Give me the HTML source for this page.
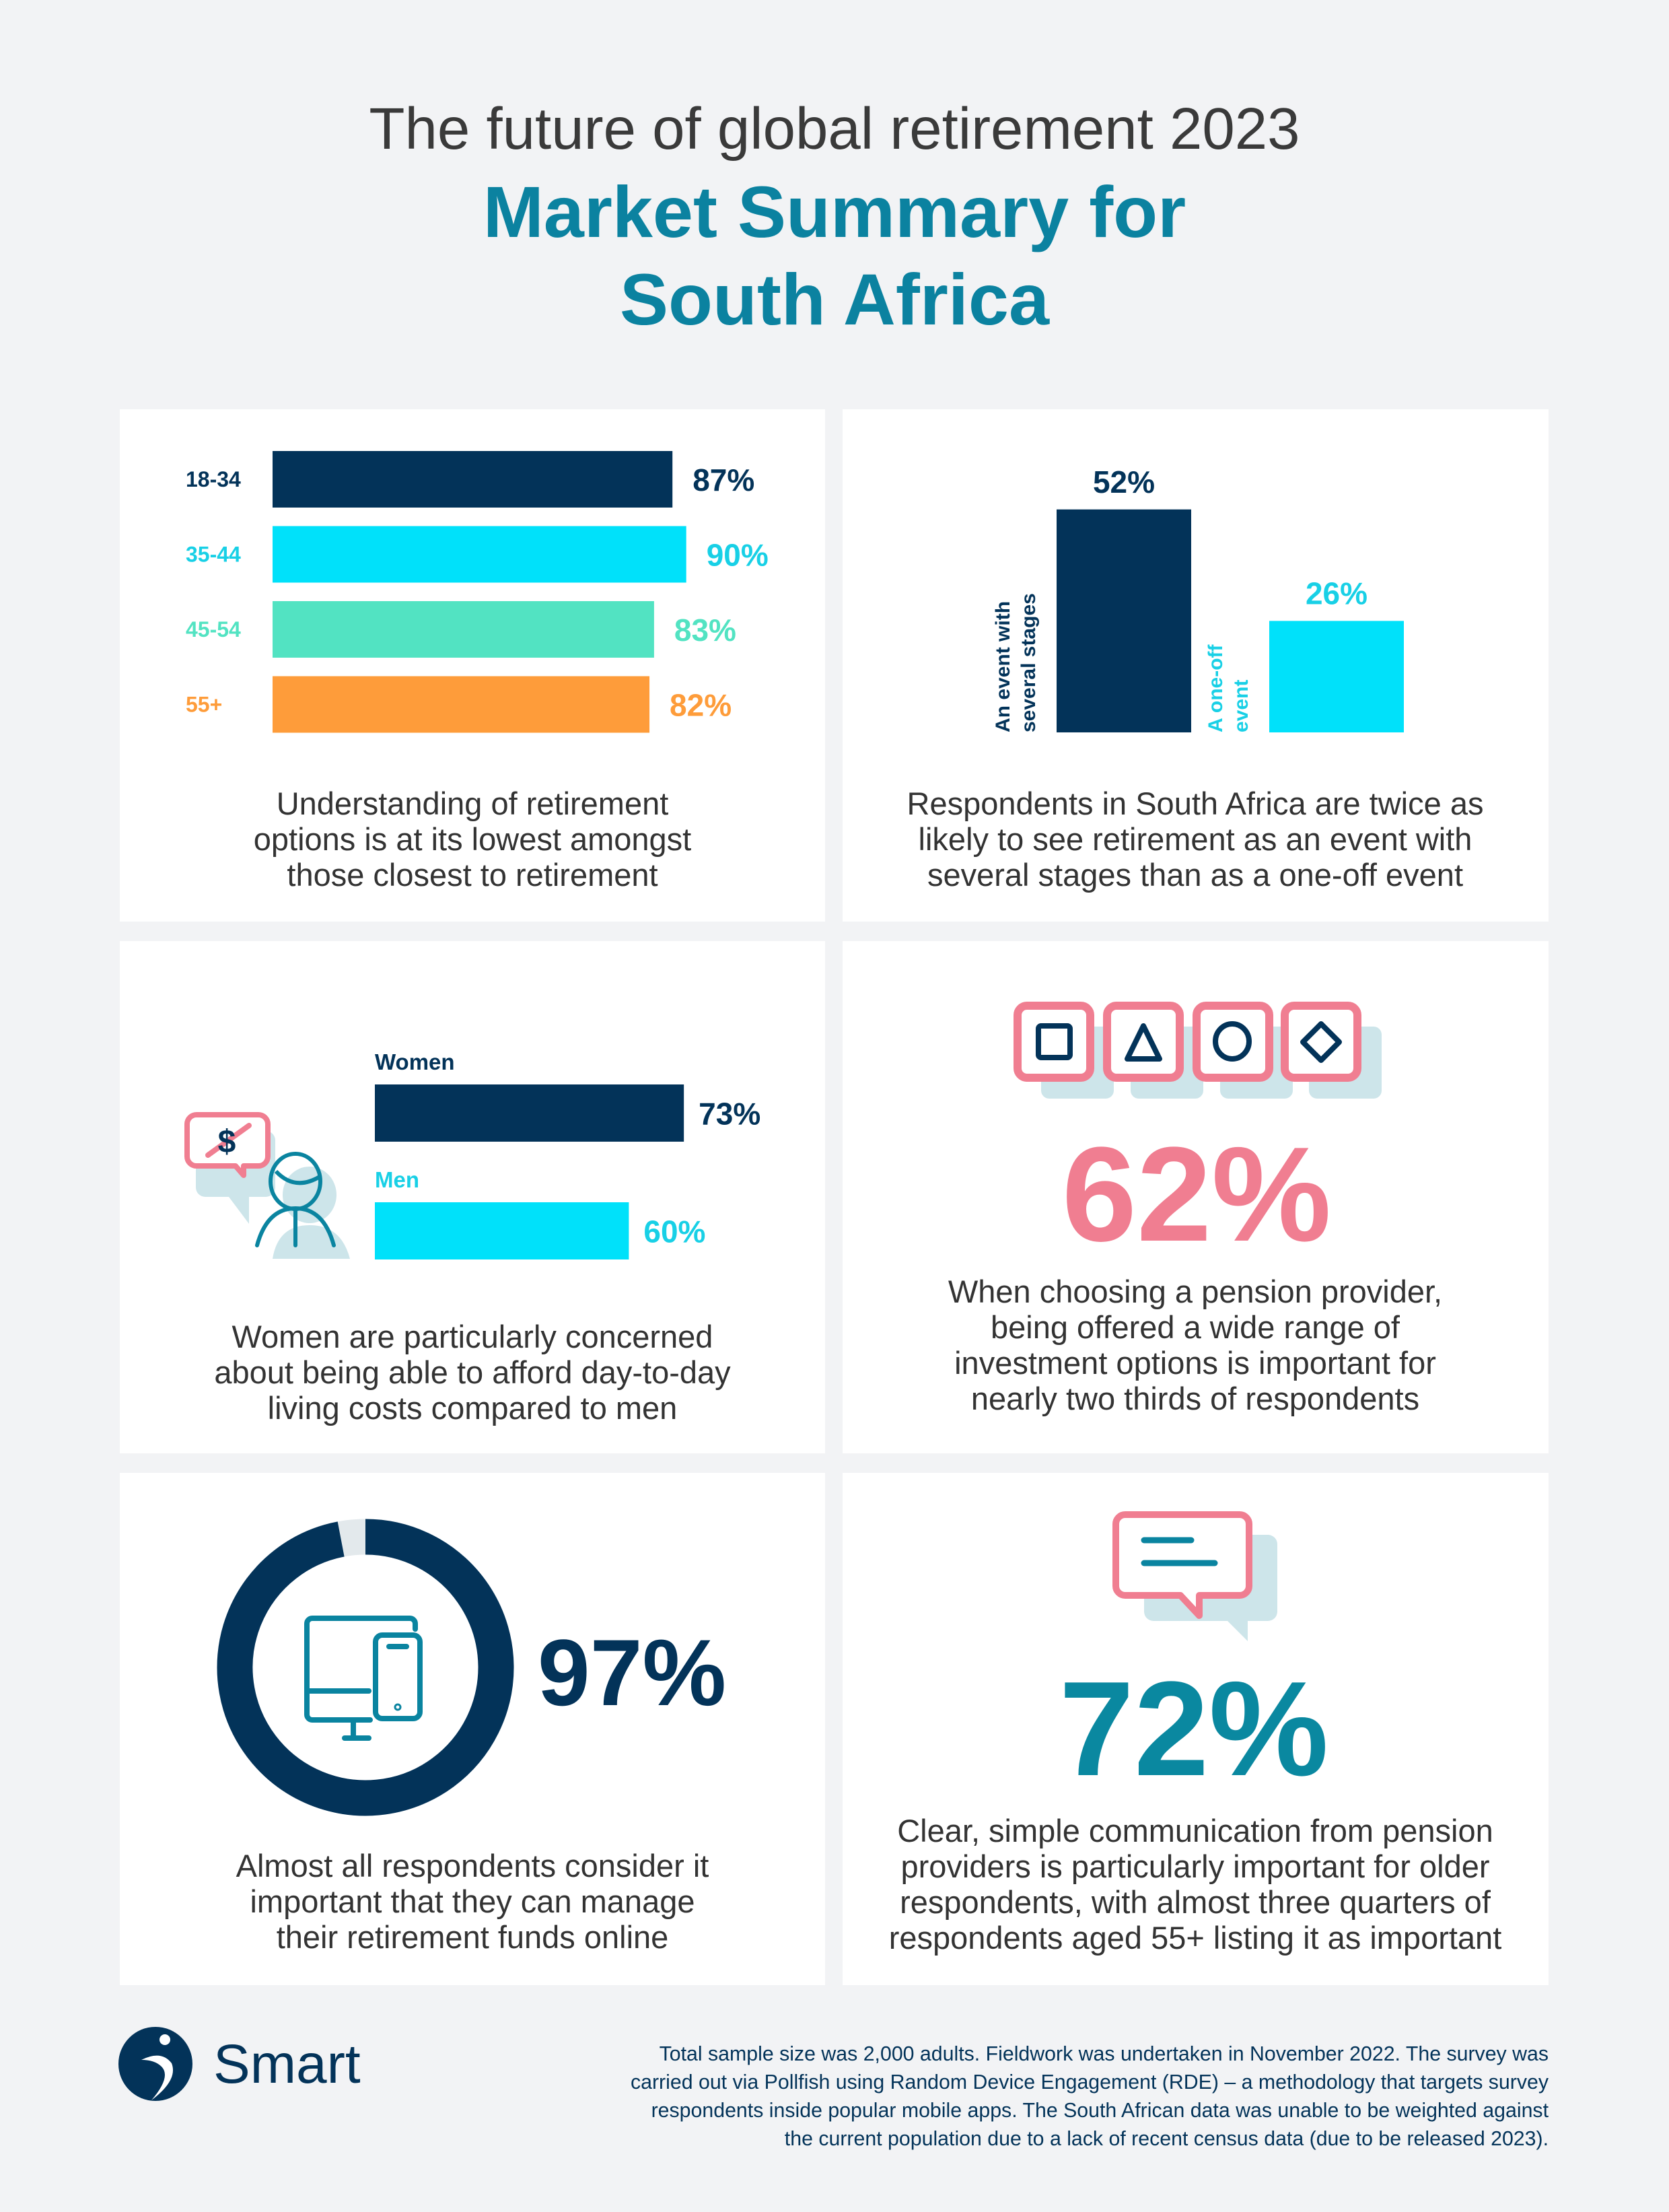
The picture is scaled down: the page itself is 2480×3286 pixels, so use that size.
<!DOCTYPE html>
<html><head><meta charset="utf-8">
<style>
html,body{margin:0;padding:0;background:#f2f3f5;}
svg{display:block;font-family:"Liberation Sans",sans-serif;}
</style></head>
<body>
<svg id="root" width="2480" height="3286" viewBox="0 0 2480 3286" xmlns="http://www.w3.org/2000/svg">
<rect x="0" y="0" width="2480" height="3286" fill="#f2f3f5"/>
<text x="1240" y="221" text-anchor="middle" font-size="87" fill="#3a3a3a">The future of global retirement 2023</text>
<text x="1240" y="352" text-anchor="middle" font-size="108" font-weight="bold" fill="#0b82a0">Market Summary for</text>
<text x="1240" y="482" text-anchor="middle" font-size="108" font-weight="bold" fill="#0b82a0">South Africa</text>

<rect x="178" y="608" width="1048" height="761" fill="#fff"/>
<rect x="1252" y="608" width="1049" height="761" fill="#fff"/>
<rect x="178" y="1398" width="1048" height="761" fill="#fff"/>
<rect x="1252" y="1398" width="1049" height="761" fill="#fff"/>
<rect x="178" y="2188" width="1048" height="761" fill="#fff"/>
<rect x="1252" y="2188" width="1049" height="761" fill="#fff"/>

<g id="chart1"></g>
<g font-size="47" fill="#333" text-anchor="middle">
<text x="702" y="1210">Understanding of retirement</text>
<text x="702" y="1263">options is at its lowest amongst</text>
<text x="702" y="1316">those closest to retirement</text>
</g>

<g id="chart2"></g>
<g font-size="47" fill="#333" text-anchor="middle">
<text x="1776" y="1210">Respondents in South Africa are twice as</text>
<text x="1776" y="1263">likely to see retirement as an event with</text>
<text x="1776" y="1316">several stages than as a one-off event</text>
</g>

<g>
<path d="M305 1680 h90 a14 14 0 0 1 14 14 v70 a14 14 0 0 1 -14 14 h-25 v40 l-30 -40 h-35 a14 14 0 0 1 -14 -14 v-70 a14 14 0 0 1 14 -14z" fill="#cde5ea"/>
<ellipse cx="460" cy="1775" rx="40" ry="42" fill="#cde5ea"/>
<path d="M405 1870 q8 -50 55 -50 q47 0 60 50z" fill="#cde5ea"/>
<path d="M292 1656 h92 a14 14 0 0 1 14 14 v48 a14 14 0 0 1 -14 14 h-22 v14 l-12 -14 h-58 a14 14 0 0 1 -14 -14 v-48 a14 14 0 0 1 14 -14z" fill="#fff" stroke="#f07e91" stroke-width="8" stroke-linejoin="round"/>
<line x1="309" y1="1716" x2="370" y2="1672" stroke="#f07e91" stroke-width="8" stroke-linecap="round"/>
<text x="337" y="1712" text-anchor="middle" font-size="48" font-weight="bold" fill="#033359">$</text>
<ellipse cx="439" cy="1755" rx="37" ry="41" fill="none" stroke="#0a84a0" stroke-width="6"/>
<path d="M410 1740 q28 30 65 8" fill="none" stroke="#0a84a0" stroke-width="6"/>
<path d="M382 1850 q15 -55 57 -55 q42 0 57 55" fill="none" stroke="#0a84a0" stroke-width="6" stroke-linecap="round"/>
<line x1="439" y1="1797" x2="439" y2="1850" stroke="#0a84a0" stroke-width="6" stroke-linecap="round"/>
</g>
<g id="chart3"></g>
<g font-size="47" fill="#333" text-anchor="middle">
<text x="702" y="2002">Women are particularly concerned</text>
<text x="702" y="2055">about being able to afford day-to-day</text>
<text x="702" y="2108">living costs compared to men</text>
</g>

<g>
<rect x="1547" y="1525" width="108" height="107" rx="12" fill="#cde5ea"/>
<rect x="1680" y="1525" width="108" height="107" rx="12" fill="#cde5ea"/>
<rect x="1813" y="1525" width="108" height="107" rx="12" fill="#cde5ea"/>
<rect x="1945" y="1525" width="108" height="107" rx="12" fill="#cde5ea"/>
<rect x="1512" y="1494" width="108" height="107" rx="14" fill="#fff" stroke="#f07e91" stroke-width="12"/>
<rect x="1645" y="1494" width="108" height="107" rx="14" fill="#fff" stroke="#f07e91" stroke-width="12"/>
<rect x="1778" y="1494" width="108" height="107" rx="14" fill="#fff" stroke="#f07e91" stroke-width="12"/>
<rect x="1909" y="1494" width="108" height="107" rx="14" fill="#fff" stroke="#f07e91" stroke-width="12"/>
<rect x="1543" y="1524" width="47" height="47" rx="4" fill="none" stroke="#033359" stroke-width="8"/>
<path d="M1699 1524 L1723 1573 L1675 1573 Z" fill="none" stroke="#033359" stroke-width="8" stroke-linejoin="round"/>
<ellipse cx="1831" cy="1547" rx="25" ry="26" fill="none" stroke="#033359" stroke-width="8"/>
<path d="M1963 1521 L1990 1548 L1963 1575 L1936 1548 Z" fill="none" stroke="#033359" stroke-width="8" stroke-linejoin="round"/>
</g>
<text x="1778" y="1843" text-anchor="middle" font-size="200" font-weight="bold" fill="#f07e91">62%</text>
<g font-size="47" fill="#333" text-anchor="middle">
<text x="1776" y="1935">When choosing a pension provider,</text>
<text x="1776" y="1988">being offered a wide range of</text>
<text x="1776" y="2041">investment options is important for</text>
<text x="1776" y="2094">nearly two thirds of respondents</text>
</g>

<g id="chart5"></g>
<g fill="none" stroke="#0a84a0" stroke-width="8" stroke-linecap="round" stroke-linejoin="round">
<path d="M617 2420 v-8 a8 8 0 0 0 -8 -8 h-145 a8 8 0 0 0 -8 8 v135 a8 8 0 0 0 8 8 h86"/>
<line x1="458" y1="2512" x2="548" y2="2512"/>
<line x1="525" y1="2557" x2="525" y2="2578"/>
<line x1="512" y1="2582" x2="548" y2="2582"/>
<rect x="558" y="2429" width="66" height="124" rx="10"/>
<line x1="578" y1="2446" x2="604" y2="2446"/>
<circle cx="591" cy="2536" r="1.5"/>
</g>
<text x="939" y="2533" text-anchor="middle" font-size="140" font-weight="bold" fill="#033359">97%</text>
<g font-size="47" fill="#333" text-anchor="middle">
<text x="702" y="2788">Almost all respondents consider it</text>
<text x="702" y="2841">important that they can manage</text>
<text x="702" y="2894">their retirement funds online</text>
</g>

<g>
<path d="M1714 2280 h170 a14 14 0 0 1 14 14 v100 a14 14 0 0 1 -14 14 h-30 v30 l-30 -30 h-110 a14 14 0 0 1 -14 -14 v-100 a14 14 0 0 1 14 -14z" fill="#cde5ea"/>
<path d="M1672 2250 h170 a14 14 0 0 1 14 14 v92 a14 14 0 0 1 -14 14 h-60 v30 l-28 -30 h-82 a14 14 0 0 1 -14 -14 v-92 a14 14 0 0 1 14 -14z" fill="#fff" stroke="#f07e91" stroke-width="10" stroke-linejoin="round"/>
<line x1="1700" y1="2288" x2="1770" y2="2288" stroke="#0a84a0" stroke-width="9" stroke-linecap="round"/>
<line x1="1700" y1="2322" x2="1805" y2="2322" stroke="#0a84a0" stroke-width="9" stroke-linecap="round"/>
</g>
<text x="1774" y="2637" text-anchor="middle" font-size="200" font-weight="bold" fill="#0a88a0">72%</text>
<g font-size="47" fill="#333" text-anchor="middle">
<text x="1776" y="2736">Clear, simple communication from pension</text>
<text x="1776" y="2789">providers is particularly important for older</text>
<text x="1776" y="2842">respondents, with almost three quarters of</text>
<text x="1776" y="2895">respondents aged 55+ listing it as important</text>
</g>

<g>
<circle cx="231" cy="3066" r="55" fill="#033359"/>
<circle cx="245" cy="3030" r="8" fill="#fff"/>
<path d="M210 3060 q30 -15 45 5 q10 25 -30 55 q30 -35 15 -50 q-10 -10 -30 -10z" fill="#fff"/>
<text x="317" y="3094" font-size="82" fill="#033359">Smart</text>
</g>
<g font-size="30.3" fill="#033359" text-anchor="end">
<text x="2301" y="3061">Total sample size was 2,000 adults. Fieldwork was undertaken in November 2022. The survey was</text>
<text x="2301" y="3103">carried out via Pollfish using Random Device Engagement (RDE)  – a methodology that targets survey</text>
<text x="2301" y="3145">respondents inside popular mobile apps. The South African data was unable to be weighted against</text>
<text x="2301" y="3187">the current population due to a lack of recent census data (due to be released 2023).</text>
</g>
</svg>
<script>
const NS = "http://www.w3.org/2000/svg";
const ageGroups = ["18-34", "35-44", "45-54", "55+"];
const ageValues = [87, 90, 83, 82];
const ageColors = ["#033359", "#00e1fa", "#52e3c2", "#fe9c3a"];
const ageLabelColors = ["#033359", "#18d0e6", "#52e3c2", "#fe9c3a"];
const viewCategories = ["An event with|several stages", "A one-off|event"];
const viewValues = [52, 26];
const genderCategories = ["Women", "Men"];
const genderValues = [73, 60];
const onlineValue = [97];

function mk(tag, attrs, parent, txt) {
  const e = document.createElementNS(NS, tag);
  for (const k in attrs) e.setAttribute(k, attrs[k]);
  if (txt !== undefined) e.textContent = txt;
  parent.appendChild(e);
  return e;
}
(function(){
  const g = document.getElementById("chart1");
  const x0 = 405, pxPer = 6.83, y0 = 670, step = 111.5, h = 84;
  const xs = v => v * pxPer;
  ageGroups.forEach((c, i) => {
    const y = y0 + i * step;
    const lab = mk("text", {x: 276, y: y + h/2 + 11, "font-size": 32, "font-weight": "bold", fill: ageLabelColors[i]}, g, c);
    
    
    const r = mk("rect", {x: x0, y: y, width: xs(ageValues[i]), height: h, fill: ageColors[i]}, g);
    
    
    const v = mk("text", {x: x0 + xs(ageValues[i]) + 30, y: y + h/2 + 17, "font-size": 46, "font-weight": "bold", fill: ageLabelColors[i]}, g, ageValues[i] + "%");
    
    
  });
})();
(function(){
  const g = document.getElementById("chart2");
  const base = 1088, pxPer = 6.37, bx = [1570, 1886], bw = 200;
  const cols = ["#033359", "#00e1fa"], lcols = ["#033359", "#18d0e6"];
  viewValues.forEach((v, i) => {
    const h = v * pxPer;
    const r = mk("rect", {x: bx[i], y: base - h, width: bw, height: h, fill: cols[i]}, g);
    
    
    const t = mk("text", {x: bx[i] + bw/2, y: base - h - 25, "text-anchor": "middle", "font-size": 46, "font-weight": "bold", fill: lcols[i]}, g, v + "%");
    
    
    const lines = viewCategories[i].split("|");
    lines.forEach((ln, j) => {
      const lx = bx[i] - 70 + j * 38;
      const tl = mk("text", {x: 0, y: 0, "font-size": 30, "font-weight": "bold", fill: lcols[i], transform: "translate(" + lx + "," + base + ") rotate(-90)"}, g, ln);
      
      
    });
  });
})();
(function(){
  const g = document.getElementById("chart3");
  const x0 = 557, pxPer = 6.29, ys = [1611, 1786], h = 85;
  const cols = ["#033359", "#00e1fa"], lcols = ["#033359", "#18d0e6"];
  genderCategories.forEach((c, i) => {
    const l = mk("text", {x: x0, y: ys[i] - 22, "font-size": 33, "font-weight": "bold", fill: lcols[i]}, g, c);
    
    
    const w = genderValues[i] * pxPer;
    const r = mk("rect", {x: x0, y: ys[i], width: w, height: h, fill: cols[i]}, g);
    
    
    const v = mk("text", {x: x0 + w + 22, y: ys[i] + h/2 + 17, "font-size": 46, "font-weight": "bold", fill: lcols[i]}, g, genderValues[i] + "%");
    
    
  });
})();
(function(){
  const g = document.getElementById("chart5");
  const cx = 543, cy = 2477, r = 194, sw = 53;
  const bg = mk("circle", {cx: cx, cy: cy, r: r, fill: "none", stroke: "#e3e9ec", "stroke-width": sw}, g);
  
  
  const a = onlineValue[0] / 100 * 2 * Math.PI;
  const x1 = cx + r * Math.sin(a), y1 = cy - r * Math.cos(a);
  const large = onlineValue[0] > 50 ? 1 : 0;
  const p = mk("path", {d: "M" + cx + " " + (cy - r) + " A" + r + " " + r + " 0 " + large + " 1 " + x1 + " " + y1, fill: "none", stroke: "#033359", "stroke-width": sw}, g);
  
  
})();
</script>
</body></html>
